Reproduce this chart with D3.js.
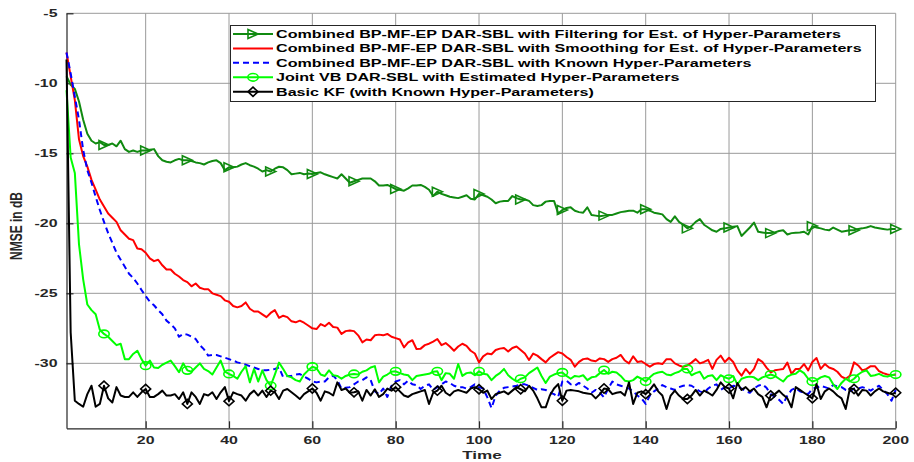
<!DOCTYPE html>
<html><head><meta charset="utf-8">
<script src="https://cdn.jsdelivr.net/npm/d3@7"></script>
<style>html,body{margin:0;padding:0;background:#fff;}svg{display:block;}</style>
</head><body>
<div id="chart"></div>
<script>
// ---------- data ----------
const timeSteps = d3.range(1, 201);
const xTicks = [20,40,60,80,100,120,140,160,180,200];
const yTicks = [-5,-10,-15,-20,-25,-30];
const seriesNames = [
  "Combined BP-MF-EP DAR-SBL with Filtering for Est. of Hyper-Parameters",
  "Combined BP-MF-EP DAR-SBL with Smoothing for Est. of Hyper-Parameters",
  "Combined BP-MF-EP DAR-SBL with Known Hyper-Parameters",
  "Joint VB DAR-SBL with Estimated Hyper-Parameters",
  "Basic KF (with Known Hyper-Parameters)"
];
const filteringNMSE = [
-9.5,-10.1,-10.4,-11.3,-12.6,-13.6,-14.1,-14.3,-14.2,-14.4,
-14.4,-14.3,-14.5,-14.1,-14.7,-14.9,-14.8,-14.9,-14.8,-14.8,
-14.75,-14.7,-15.2,-15.5,-15.6,-15.65,-15.5,-15.4,-15.5,-15.5,
-15.55,-15.65,-15.7,-15.8,-15.65,-15.55,-15.5,-15.7,-16.2,-16.0,
-16.0,-15.95,-15.8,-15.7,-15.85,-15.95,-16.1,-16.3,-16.2,-16.3,
-16.1,-15.96,-16.0,-16.2,-16.5,-16.45,-16.4,-16.5,-16.45,-16.48,
-16.4,-16.36,-16.5,-16.6,-16.7,-16.8,-16.5,-16.8,-17.1,-17.0,
-16.9,-16.8,-16.8,-16.8,-17.0,-17.3,-17.3,-17.26,-17.4,-17.55,
-17.6,-17.67,-17.5,-17.3,-17.3,-17.26,-17.4,-17.6,-18.05,-17.74,
-17.9,-18.0,-18.1,-18.15,-18.2,-18.1,-18.0,-18.25,-18.3,-17.9,
-18.0,-18.1,-18.3,-18.57,-18.45,-18.4,-18.4,-18.05,-18.2,-18.3,
-18.3,-18.4,-18.7,-18.76,-18.7,-18.45,-18.4,-18.4,-19.3,-19.05,
-18.9,-18.86,-19.1,-19.2,-19.24,-18.86,-19.4,-19.45,-19.5,-19.45,
-19.4,-19.4,-19.3,-19.2,-19.15,-19.1,-19.1,-19.24,-19.0,-19.0,
-19.1,-19.24,-19.3,-19.36,-19.7,-19.9,-19.5,-19.9,-20.1,-20.36,
-20.2,-19.9,-19.7,-20.1,-20.3,-20.5,-20.6,-20.4,-20.36,-20.3,
-20.25,-20.2,-20.9,-20.6,-20.3,-19.95,-20.6,-20.65,-20.7,-20.7,
-20.65,-20.55,-20.5,-20.8,-20.7,-20.67,-20.65,-20.6,-20.8,-20.2,
-20.3,-20.36,-20.45,-20.5,-20.3,-20.45,-20.6,-20.55,-20.5,-20.5,
-20.4,-20.36,-20.3,-20.2,-20.3,-20.35,-20.4,-20.45,-20.4,-20.4];
const smoothingNMSE = [
-7.8,-9.5,-11.2,-14.0,-15.2,-15.95,-16.9,-17.6,-18.3,-18.8,
-19.3,-19.6,-19.9,-20.5,-20.8,-21.1,-21.2,-21.8,-21.85,-22.1,
-22.5,-22.7,-22.6,-23.0,-23.3,-23.3,-23.6,-23.8,-24.05,-24.2,
-24.5,-24.3,-24.6,-24.7,-24.7,-25.0,-25.1,-25.2,-25.5,-25.6,
-25.9,-26.0,-25.9,-25.65,-26.1,-26.3,-26.3,-26.5,-26.7,-26.4,
-26.2,-26.75,-26.6,-26.7,-27.0,-27.07,-26.95,-27.1,-27.3,-27.5,
-27.55,-27.2,-27.35,-27.1,-27.4,-27.45,-27.9,-27.7,-27.65,-27.7,
-28.0,-28.5,-28.3,-28.35,-28.0,-27.95,-28.0,-27.9,-28.1,-28.2,
-28.3,-28.86,-28.5,-28.35,-28.98,-28.95,-28.7,-28.6,-28.45,-28.26,
-28.7,-28.55,-28.8,-29.1,-28.8,-28.6,-28.75,-29.1,-29.3,-29.93,
-29.5,-29.3,-29.35,-29.05,-28.95,-28.9,-29.15,-28.9,-28.8,-29.05,
-29.3,-29.76,-29.3,-29.45,-29.7,-29.93,-29.6,-29.4,-29.2,-29.3,
-29.55,-29.75,-30.24,-29.9,-29.7,-29.65,-29.8,-29.85,-29.65,-29.7,
-29.9,-29.7,-29.6,-29.4,-29.8,-30.0,-29.5,-29.9,-29.85,-30.05,
-30.24,-30.05,-30.0,-30.05,-29.7,-29.7,-30.0,-30.15,-30.25,-30.15,
-29.95,-29.7,-30.0,-29.9,-29.75,-30.4,-29.75,-29.45,-29.9,-29.6,
-29.9,-30.5,-30.88,-30.4,-30.75,-30.4,-29.7,-29.9,-30.3,-30.65,
-30.5,-30.45,-30.4,-29.95,-30.75,-30.4,-30.4,-30.05,-30.5,-29.9,
-29.62,-30.4,-30.05,-30.3,-30.4,-30.6,-30.95,-31.1,-30.9,-29.93,
-30.15,-30.5,-30.4,-30.2,-30.2,-30.55,-30.7,-30.8,-30.85,-30.8];
const knownNMSE = [
-7.8,-9.3,-10.95,-12.6,-14.76,-16.2,-17.1,-18.1,-19.05,-19.9,
-20.7,-21.4,-22.1,-22.6,-23.1,-23.6,-23.9,-24.3,-24.76,-25.2,
-25.6,-25.85,-26.2,-26.5,-26.95,-27.2,-27.5,-28.1,-27.9,-27.95,
-28.1,-28.26,-28.7,-29.0,-29.45,-29.4,-29.4,-29.5,-29.6,-29.7,
-29.8,-29.93,-30.0,-30.1,-30.2,-30.3,-30.4,-30.5,-30.5,-30.45,
-30.4,-30.3,-31.0,-30.9,-30.9,-30.8,-30.76,-30.95,-31.1,-31.3,
-31.36,-31.3,-31.3,-31.0,-30.88,-31.2,-31.8,-31.75,-31.7,-31.5,
-31.3,-31.2,-31.0,-31.2,-32.0,-32.2,-31.8,-32.4,-31.6,-31.3,
-31.2,-31.5,-31.24,-31.5,-31.55,-31.83,-31.6,-31.5,-31.9,-31.7,
-31.5,-31.3,-31.4,-31.6,-31.7,-31.7,-31.8,-31.7,-31.5,-31.7,
-31.8,-32.43,-33.2,-32.3,-31.95,-31.75,-31.7,-31.65,-31.6,-31.5,
-31.5,-31.6,-31.75,-31.9,-31.85,-31.9,-32.1,-32.2,-32.4,-31.3,
-31.24,-31.5,-31.6,-31.4,-31.6,-31.8,-32.1,-31.9,-32.1,-32.43,
-31.8,-31.3,-31.5,-31.6,-31.7,-31.8,-32.0,-32.3,-32.5,-32.9,
-32.3,-32.0,-31.8,-31.55,-31.7,-31.8,-31.9,-31.7,-31.6,-31.55,
-31.6,-31.8,-32.0,-32.1,-31.8,-31.6,-31.5,-31.9,-31.7,-31.8,
-31.6,-31.65,-31.8,-32.0,-32.1,-31.8,-31.6,-31.5,-31.75,-32.2,
-32.4,-32.6,-32.9,-32.3,-31.9,-31.75,-32.0,-32.1,-32.2,-31.8,
-31.75,-31.6,-31.7,-31.8,-31.55,-31.65,-31.7,-31.9,-32.0,-31.8,
-31.8,-31.7,-31.8,-31.95,-31.75,-31.6,-31.9,-32.2,-32.67,-31.9];
const jointVbNMSE = [
-10.5,-15.3,-16.4,-21.5,-24.0,-25.8,-26.2,-26.5,-27.6,-27.9,
-28.1,-28.4,-28.7,-28.6,-29.7,-29.7,-29.33,-29.1,-29.7,-30.17,
-29.8,-30.3,-30.33,-30.1,-29.95,-29.8,-30.2,-30.64,-30.0,-30.5,
-30.6,-30.3,-30.0,-30.4,-30.55,-30.8,-30.3,-29.8,-30.6,-30.76,
-30.9,-31.1,-30.6,-30.2,-31.36,-30.4,-31.3,-30.5,-31.2,-31.6,
-30.8,-29.95,-30.4,-30.9,-31.0,-31.2,-31.3,-30.8,-30.5,-30.24,
-30.35,-30.8,-30.9,-30.5,-30.85,-30.9,-31.1,-30.9,-30.8,-30.76,
-30.8,-30.6,-30.5,-30.3,-30.2,-31.36,-30.95,-30.8,-30.6,-30.57,
-30.7,-30.8,-30.85,-31.2,-30.9,-30.85,-30.8,-30.75,-30.6,-30.57,
-31.2,-30.7,-30.75,-31.1,-30.05,-30.9,-30.7,-30.65,-30.85,-30.57,
-30.75,-30.8,-31.2,-30.9,-30.7,-30.4,-30.85,-31.1,-31.3,-31.1,
-31.0,-30.7,-30.5,-30.3,-30.9,-31.4,-30.95,-30.8,-30.7,-30.65,
-30.9,-31.1,-30.9,-30.95,-30.85,-31.2,-31.0,-30.95,-30.7,-30.48,
-30.75,-30.6,-30.65,-30.9,-31.24,-31.3,-31.2,-30.95,-31.1,-31.3,
-31.0,-30.75,-30.65,-30.6,-30.8,-30.85,-30.7,-30.6,-30.4,-30.4,
-30.85,-30.7,-30.6,-31.1,-30.9,-30.85,-31.2,-30.85,-31.0,-31.1,
-30.9,-31.5,-31.1,-31.0,-30.95,-31.0,-31.2,-31.0,-30.9,-30.8,
-30.9,-31.1,-31.3,-30.95,-30.8,-30.75,-30.5,-30.7,-31.1,-31.3,
-31.2,-31.0,-30.9,-31.0,-31.5,-31.83,-31.4,-31.1,-31.3,-31.1,
-30.8,-30.6,-30.5,-30.9,-30.85,-30.75,-30.9,-30.95,-30.85,-30.8];
const basicKfNMSE = [
-8.3,-27.8,-32.67,-32.9,-33.1,-32.2,-31.6,-33.1,-32.9,-31.6,
-32.5,-32.8,-31.7,-32.3,-32.4,-32.4,-32.07,-32.4,-32.07,-31.83,
-32.4,-32.4,-32.2,-31.95,-32.3,-32.3,-32.2,-32.55,-32.07,-32.9,
-32.07,-32.4,-32.9,-32.2,-32.3,-32.07,-32.55,-32.07,-31.7,-32.7,
-32.07,-32.2,-32.3,-32.67,-32.2,-31.95,-32.3,-31.95,-32.4,-31.95,
-32.07,-32.55,-31.95,-31.83,-32.07,-32.3,-32.55,-32.2,-32.0,-31.8,
-32.1,-32.67,-32.0,-32.1,-32.3,-31.36,-31.9,-31.8,-32.1,-32.07,
-32.0,-32.67,-31.9,-32.3,-31.85,-32.4,-32.2,-31.8,-31.95,-31.7,
-32.0,-32.3,-32.4,-32.2,-32.1,-32.0,-31.9,-32.9,-32.1,-31.95,
-31.6,-32.1,-32.3,-32.0,-31.9,-32.0,-32.1,-31.8,-31.7,-31.85,
-32.1,-31.95,-32.55,-32.2,-32.1,-32.0,-32.2,-31.95,-31.7,-31.85,
-32.0,-31.6,-31.95,-32.5,-33.14,-33.14,-32.3,-31.8,-31.48,-32.67,
-31.95,-31.9,-31.95,-32.0,-32.1,-32.15,-32.2,-32.5,-32.2,-31.8,
-31.85,-32.2,-32.1,-32.05,-32.3,-31.36,-32.9,-32.1,-32.0,-32.2,
-31.9,-31.5,-32.0,-32.3,-33.26,-32.3,-31.95,-32.3,-32.55,-32.55,
-32.3,-31.9,-32.3,-31.95,-32.1,-32.3,-31.9,-31.36,-31.7,-31.8,
-32.5,-31.4,-31.9,-31.7,-32.0,-31.8,-32.2,-32.4,-33.14,-32.3,
-32.2,-31.95,-32.25,-32.5,-33.14,-31.7,-31.9,-32.1,-32.3,-32.5,
-31.48,-32.55,-32.0,-31.8,-32.0,-32.3,-32.5,-33.26,-31.8,-31.83,
-32.3,-31.9,-31.95,-32.3,-32.0,-31.8,-32.0,-32.1,-32.2,-32.1];
const markerSteps = [10,20,30,40,50,60,70,80,90,100,110,120,130,140,150,160,170,180,190,200];

// ---------- styles ----------
const series = [
  {name: seriesNames[0], values: filteringNMSE, color: "#108a10", dash: null, marker: "triangle"},
  {name: seriesNames[1], values: smoothingNMSE, color: "#ff0000", dash: null, marker: null},
  {name: seriesNames[2], values: knownNMSE, color: "#0000ff", dash: "6,4", marker: null},
  {name: seriesNames[3], values: jointVbNMSE, color: "#00ff00", dash: null, marker: "circle"},
  {name: seriesNames[4], values: basicKfNMSE, color: "#000000", dash: null, marker: "diamond"}
];

const W = 914, H = 462;
const FONT = "'Liberation Sans', Arial, Helvetica, sans-serif";
const svg = d3.select("#chart").append("svg").attr("width", W).attr("height", H)
  .style("background", "#fff");

const x = d3.scaleLinear().domain([1, 200]).range([66.5, 895.7]);
const y = d3.scaleLinear().domain([-34.64, -5]).range([428.3, 13.3]);
const [x0, x1] = x.range();
const [yb, yt] = y.range();

function stext(g, px, py, str, size, anchor, sx) {
  return g.append("text")
    .attr("transform", `translate(${px},${py}) scale(${sx},1)`)
    .attr("text-anchor", anchor)
    .attr("font-family", FONT).attr("font-weight", "bold")
    .attr("font-size", size).attr("fill", "#000")
    .text(str);
}

// grid
const grid = svg.append("g");
grid.selectAll("line.v").data(xTicks).join("line")
  .attr("x1", d => x(d)).attr("x2", d => x(d)).attr("y1", yt).attr("y2", yb)
  .attr("stroke", "#9a9a9a").attr("stroke-width", 1);
grid.selectAll("line.h").data(yTicks).join("line")
  .attr("x1", x0).attr("x2", x1).attr("y1", d => y(d)).attr("y2", d => y(d))
  .attr("stroke", "#9a9a9a").attr("stroke-width", 1);

// axes via d3
const axisColor = "#262626";
const xAxis = d3.axisBottom(x).tickValues(xTicks).tickSizeInner(-7).tickSizeOuter(0).tickFormat("");
const yAxis = d3.axisLeft(y).tickValues(yTicks).tickSizeInner(-7).tickSizeOuter(0).tickFormat("");
const gx = svg.append("g").attr("transform", `translate(0,${yb})`).call(xAxis);
const gy = svg.append("g").attr("transform", `translate(${x0},0)`).call(yAxis);
[gx, gy].forEach(g => {
  g.select(".domain").attr("stroke", axisColor).attr("stroke-width", 1.2);
  g.selectAll(".tick line").attr("stroke", axisColor).attr("stroke-width", 1.2);
});

// tick labels
const labels = svg.append("g");
xTicks.forEach(t => stext(labels, x(t), 443.5, String(t), 10.2, "middle", 1.56).attr("fill", axisColor));
yTicks.forEach(t => stext(labels, 57.5, y(t) + 3.7, String(t), 10.2, "end", 1.56).attr("fill", axisColor));

// axis titles
stext(svg, 482, 459, "Time", 11, "middle", 1.56).attr("fill", axisColor);
svg.append("text")
  .attr("transform", `translate(21.5,226) scale(1.3,1) rotate(-90)`)
  .attr("text-anchor", "middle").attr("font-family", FONT).attr("font-weight", "bold")
  .attr("font-size", 12).attr("fill", axisColor).text("NMSE in dB");

// lines
const line = d3.line().x((d, i) => x(timeSteps[i])).y(d => y(d));
const plot = svg.append("g");

function drawMarker(g, type, cx, cy, color) {
  if (type === "triangle") {
    g.append("path").attr("d", `M${cx-5},${cy-4.5}L${cx+5},${cy}L${cx-5},${cy+4.5}Z`)
      .attr("fill", "none").attr("stroke", color).attr("stroke-width", 1.6);
  } else if (type === "circle") {
    g.append("ellipse").attr("cx", cx).attr("cy", cy).attr("rx", 5.2).attr("ry", 3.8)
      .attr("fill", "none").attr("stroke", color).attr("stroke-width", 1.6);
  } else if (type === "diamond") {
    g.append("path").attr("d", `M${cx},${cy-4.6}L${cx+5},${cy}L${cx},${cy+4.6}L${cx-5},${cy}Z`)
      .attr("fill", "none").attr("stroke", color).attr("stroke-width", 1.6);
  }
}

series.forEach(s => {
  plot.append("path").datum(s.values)
    .attr("d", line)
    .attr("fill", "none").attr("stroke", s.color).attr("stroke-width", 2)
    .attr("stroke-linejoin", "round")
    .attr("stroke-dasharray", s.dash);
  if (s.marker) {
    const mg = plot.append("g");
    markerSteps.forEach(t => drawMarker(mg, s.marker, x(t), y(s.values[t - 1]), s.color));
  }
});

// legend
const lg = svg.append("g");
lg.append("rect").attr("x", 230.5).attr("y", 25.5).attr("width", 645).attr("height", 76)
  .attr("fill", "#fff").attr("stroke", axisColor).attr("stroke-width", 1);
const rowY = d3.scalePoint().domain(d3.range(series.length)).range([34, 91.7]);
series.forEach((s, i) => {
  const cy = rowY(i);
  lg.append("line").attr("x1", 233).attr("x2", 273).attr("y1", cy).attr("y2", cy)
    .attr("stroke", s.color).attr("stroke-width", 2).attr("stroke-dasharray", s.dash);
  if (s.marker) drawMarker(lg, s.marker, 253, cy, s.color);
  stext(lg, 276, cy + 3.8, s.name, 10.5, "start", 1.535);
});
</script>
</body></html>
